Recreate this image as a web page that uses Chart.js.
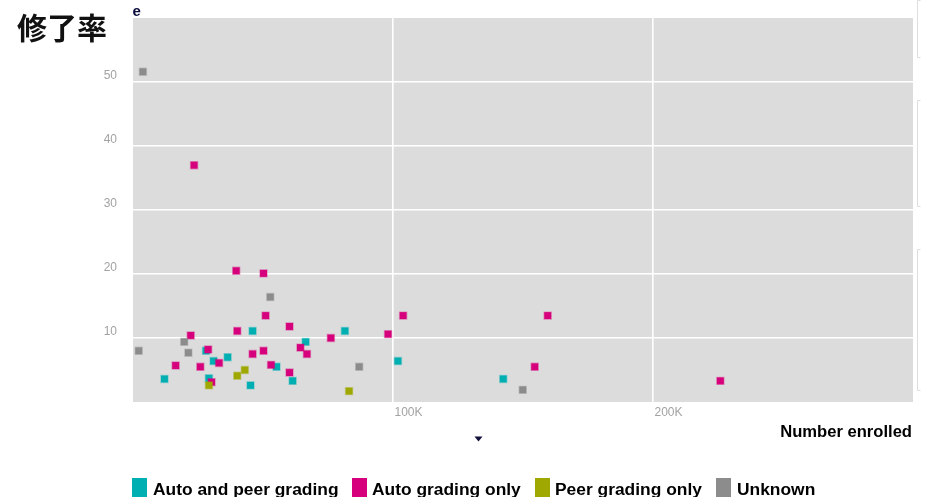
<!DOCTYPE html>
<html>
<head>
<meta charset="utf-8">
<script src="https://cdn.jsdelivr.net/npm/chart.js@4/dist/chart.umd.min.js"></script>
<style>
  html, body { margin: 0; padding: 0; background: #fff; }
  #wrap { position: relative; width: 927px; height: 497px; }
</style>
</head>
<body>
<div id="wrap"><canvas id="c" width="927" height="497"></canvas></div>
<script>
// ---- Data (x = number enrolled, y = completion rate %) ----
const seriesNames = ["Auto and peer grading", "Auto grading only", "Peer grading only", "Unknown"];
const seriesColors = ["#00AFB1", "#D6007C", "#9EA800", "#8C8C8C"];

const autoPeerX = [12100, 28100, 29200, 31000, 36400, 45200, 46000, 55200, 61400, 66400, 81500, 101900, 142400];
const autoPeerY = [3.6, 8.0, 3.7, 6.4, 7.0, 2.6, 11.1, 5.5, 3.3, 9.4, 11.1, 6.4, 3.6];

const autoOnlyX = [16400, 22200, 23500, 25900, 28900, 30200, 33100, 39700, 40100, 46000, 50200, 50200, 51000, 53100, 60200, 60200, 64400, 66900, 76100, 98100, 103900, 154500, 159500, 225900];
const autoOnlyY = [5.7, 10.4, 37.0, 5.5, 8.2, 3.1, 6.1, 20.5, 11.1, 7.5, 20.1, 8.0, 13.5, 5.8, 11.8, 4.6, 8.5, 7.5, 10.0, 10.6, 13.5, 5.5, 13.5, 3.3];

const peerOnlyX = [29200, 40100, 43000, 83100];
const peerOnlyY = [2.6, 4.1, 5.0, 1.7];

const unknownX = [2200, 3800, 19700, 21300, 52800, 87000, 149900];
const unknownY = [8.0, 51.6, 9.4, 7.7, 16.4, 5.5, 1.9];

const yTickValues = [10, 20, 30, 40, 50];
const yTickLabels = ["10", "20", "30", "40", "50"];
const xTickValues = [100000, 200000];
const xTickLabels = ["100K", "200K"];

const titleText = "修了率";
const yAxisFragment = "e";
const xAxisTitle = "Number enrolled";

// ---- Build datasets ----
function pts(xs, ys) { return xs.map((x, i) => ({ x: x, y: ys[i] })); }
function hexA(hex, a) {
  const n = parseInt(hex.slice(1), 16);
  return `rgba(${(n >> 16) & 255},${(n >> 8) & 255},${n & 255},${a})`;
}
const allX = [autoPeerX, autoOnlyX, peerOnlyX, unknownX];
const allY = [autoPeerY, autoOnlyY, peerOnlyY, unknownY];
const orders = [4, 3, 2, 1];
const datasets = seriesNames.map((name, i) => ({
  label: name,
  data: pts(allX[i], allY[i]),
  backgroundColor: seriesColors[i],
  borderColor: hexA(seriesColors[i], 0.35),
  borderWidth: 1.5,
  pointStyle: 'rect',
  pointRadius: 4.9,
  order: orders[i]
}));

const FONT = "'Liberation Sans', Arial, sans-serif";

const decor = {
  id: 'decor',
  beforeDraw(chart) {
    const { ctx, chartArea: a } = chart;
    ctx.save();
    ctx.fillStyle = '#DCDCDC';
    ctx.fillRect(a.left, a.top, a.right - a.left, a.bottom - a.top);
    ctx.restore();
  },
  afterDraw(chart) {
    const { ctx, chartArea: a, scales } = chart;
    ctx.save();
    // y tick labels (drawn above the grid line)
    ctx.font = `12px ${FONT}`;
    ctx.fillStyle = '#a2a2a2';
    ctx.textAlign = 'right';
    ctx.textBaseline = 'alphabetic';
    yTickValues.forEach((v, i) => {
      const py = scales.y.getPixelForValue(v);
      ctx.fillText(yTickLabels[i], 117, py - 3.5);
    });
    // x tick labels (left aligned at grid line)
    ctx.textAlign = 'left';
    xTickValues.forEach((v, i) => {
      const px = scales.x.getPixelForValue(v);
      ctx.fillText(xTickLabels[i], px + 1.5, a.bottom + 13.5);
    });
    // x axis title
    ctx.font = `bold 16.6px ${FONT}`;
    ctx.fillStyle = '#000';
    ctx.textAlign = 'right';
    ctx.fillText(xAxisTitle, 912, 436.5);
    // small arrow
    ctx.fillStyle = '#10103a';
    ctx.beginPath();
    ctx.moveTo(474.5, 436.5);
    ctx.lineTo(482.5, 436.5);
    ctx.lineTo(478.5, 441.5);
    ctx.closePath();
    ctx.fill();
    // truncated axis title fragment (top clipped)
    ctx.save();
    ctx.beginPath();
    ctx.rect(125, 8, 30, 12);
    ctx.clip();
    ctx.font = `bold 15px ${FONT}`;
    ctx.fillStyle = '#0a0a3a';
    ctx.textAlign = 'left';
    ctx.fillText(yAxisFragment, 132.5, 15.5);
    ctx.restore();
    // title
    ctx.font = `bold 30px 'Noto Sans CJK JP', sans-serif`;
    ctx.fillStyle = '#111';
    ctx.textAlign = 'left';
    ctx.textBaseline = 'alphabetic';
    ctx.fillText(titleText, 17, 39);
    // faint brackets on the right
    ctx.strokeStyle = '#dedede';
    ctx.lineWidth = 1;
    [[0, 57], [100, 206], [249, 390]].forEach(([t, b]) => {
      ctx.beginPath();
      ctx.moveTo(920.5, t + 0.5); ctx.lineTo(917.5, t + 0.5); ctx.lineTo(917.5, b + 0.5); ctx.lineTo(920.5, b + 0.5);
      ctx.stroke();
    });
    // legend
    const items = [[132, 153], [352, 372], [535, 555], [716, 737]];
    ctx.font = `bold 17.4px ${FONT}`;
    ctx.textAlign = 'left';
    seriesNames.forEach((n, i) => {
      ctx.fillStyle = seriesColors[i];
      ctx.fillRect(items[i][0], 478, 15, 19);
      ctx.fillStyle = '#000';
      ctx.fillText(n, items[i][1], 495);
    });
    ctx.restore();
  }
};

new Chart(document.getElementById('c'), {
  type: 'scatter',
  data: { datasets },
  options: {
    responsive: false,
    animation: false,
    devicePixelRatio: 1,
    layout: { padding: { left: 133, right: 14, top: 18, bottom: 95 } },
    plugins: { legend: { display: false }, tooltip: { enabled: false }, title: { display: false } },
    scales: {
      x: {
        type: 'linear', min: 0, max: 300000,
        afterFit(s) { s.height = 0; },
        afterBuildTicks(s) { s.ticks = [0, ...xTickValues, 300000].map(v => ({ value: v })); },
        ticks: { display: false },
        border: { display: false },
        grid: {
          color: c => (c.tick && xTickValues.includes(c.tick.value)) ? '#ffffff' : 'rgba(0,0,0,0)',
          lineWidth: 1.6, drawTicks: false
        }
      },
      y: {
        type: 'linear', min: 0, max: 60,
        afterFit(s) { s.width = 0; },
        afterBuildTicks(s) { s.ticks = [0, ...yTickValues, 60].map(v => ({ value: v })); },
        ticks: { display: false },
        border: { display: false },
        grid: {
          color: c => (c.tick && yTickValues.includes(c.tick.value)) ? '#ffffff' : 'rgba(0,0,0,0)',
          lineWidth: 1.6, drawTicks: false
        }
      }
    }
  },
  plugins: [decor]
});
</script>
</body>
</html>
